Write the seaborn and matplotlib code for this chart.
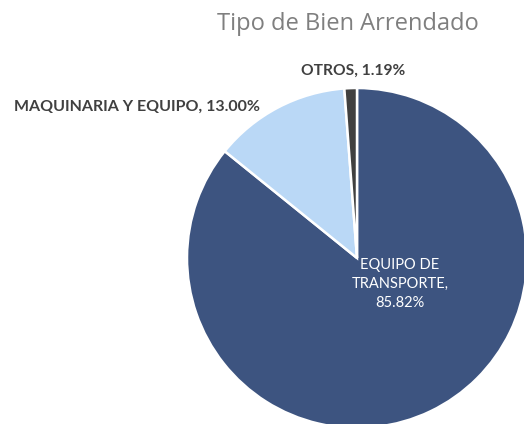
import matplotlib
matplotlib.use("Agg")
import matplotlib.pyplot as plt
import seaborn as sns

# data
categories = ["EQUIPO DE\nTRANSPORTE", "MAQUINARIA Y EQUIPO", "OTROS"]
shares = [85.82, 13.00, 1.19]
colors = ["#3D5480", "#BAD8F6", "#404040"]

sns.set_theme(style="white")
plt.rcParams["font.family"] = ["Open Sans", "DejaVu Sans"]

W, H = 524, 424
cx, cy, r = 357, 258, 170

fig = plt.figure(figsize=(W / 100, H / 100), dpi=100)
ax = fig.add_axes([(cx - r) / W, (H - cy - r) / H, 2 * r / W, 2 * r / H])

wedges, _ = ax.pie(
    shares,
    colors=colors,
    startangle=90,
    counterclock=False,
    radius=1,
    wedgeprops={"edgecolor": "white", "linewidth": 1.8},
)
ax.set_xlim(-1, 1)
ax.set_ylim(-1, 1)
ax.axis("off")


def to_data(px, py):
    return (px - cx) / r, (cy - py) / r


# labels
x, y = to_data(400, 284)
ax.text(x, y, f"{categories[0]},\n{shares[0]:.2f}%", ha="center", va="center",
        color="white", fontsize=10.5, linespacing=1.45, family=["Lato", "DejaVu Sans"])

x, y = to_data(137, 107)
ax.text(x, y, f"{categories[1]}, {shares[1]:.2f}%", ha="center", va="center",
        color="#404040", fontsize=11.5, fontweight="bold", family=["Lato", "DejaVu Sans"])

x, y = to_data(353, 71)
ax.text(x, y, f"{categories[2]}, {shares[2]:.2f}%", ha="center", va="center",
        color="#404040", fontsize=11.2, fontweight="bold", family=["Lato", "DejaVu Sans"])

fig.text(348 / W, 1 - 24 / H, "Tipo de Bien Arrendado", ha="center", va="center",
         fontsize=17, color="#7F7F7F")

fig.savefig("out.png", dpi=100)
